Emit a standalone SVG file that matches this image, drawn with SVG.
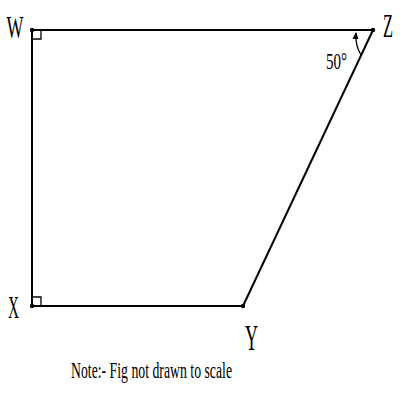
<svg xmlns="http://www.w3.org/2000/svg" width="400" height="400" viewBox="0 0 400 400">
<style>
.edge{stroke:#000;stroke-width:2;fill:none}
.mark{stroke:#000;stroke-width:1.3;fill:none}
.lbl{font-family:"Liberation Serif","Times New Roman",serif;fill:#000}
.pt{fill:#000}
</style>
<defs>
<marker id="ah" markerWidth="8" markerHeight="8" refX="6" refY="4" orient="auto" markerUnits="userSpaceOnUse">
<path d="M0,1 L7,4 L0,7 Z" fill="#000"/>
</marker>
</defs>
<rect width="400" height="400" fill="#fff"/>
<g id="connectors">
<line class="edge" x1="32" y1="30" x2="373" y2="30"/>
<line class="edge" x1="32" y1="30" x2="32" y2="306"/>
<line class="edge" x1="32" y1="306" x2="243" y2="306"/>
<line class="edge" x1="243" y1="306" x2="373" y2="30"/>
<path class="mark" d="M32,39 H41 V30"/>
<path class="mark" d="M32,297 H41 V306"/>
<path class="mark" d="M361,55 Q355,45 356,33" marker-end="url(#ah)"/>
</g>
<g id="W"><circle class="pt" cx="32" cy="30" r="2.2"/><text class="lbl" x="6.5" y="38" font-size="32" textLength="17" lengthAdjust="spacingAndGlyphs">W</text></g>
<g id="Z"><circle class="pt" cx="373" cy="30" r="2.2"/><text class="lbl" transform="translate(383,37) scale(0.82,1.65)" x="0" y="0" font-size="20">Z</text></g>
<g id="X"><circle class="pt" cx="32" cy="306" r="2.2"/><text class="lbl" x="8" y="318" font-size="31" textLength="11" lengthAdjust="spacingAndGlyphs">X</text></g>
<g id="Y"><circle class="pt" cx="243" cy="306" r="2.2"/><text class="lbl" x="245" y="350" font-size="36" textLength="13" lengthAdjust="spacingAndGlyphs">Y</text></g>
<g id="angle"><text class="lbl" x="326" y="69" font-size="23" textLength="21" lengthAdjust="spacingAndGlyphs">50°</text></g>
<g id="note"><text class="lbl" x="71" y="378" font-size="23" textLength="161" lengthAdjust="spacingAndGlyphs">Note:- Fig not drawn to scale</text></g>
</svg>
